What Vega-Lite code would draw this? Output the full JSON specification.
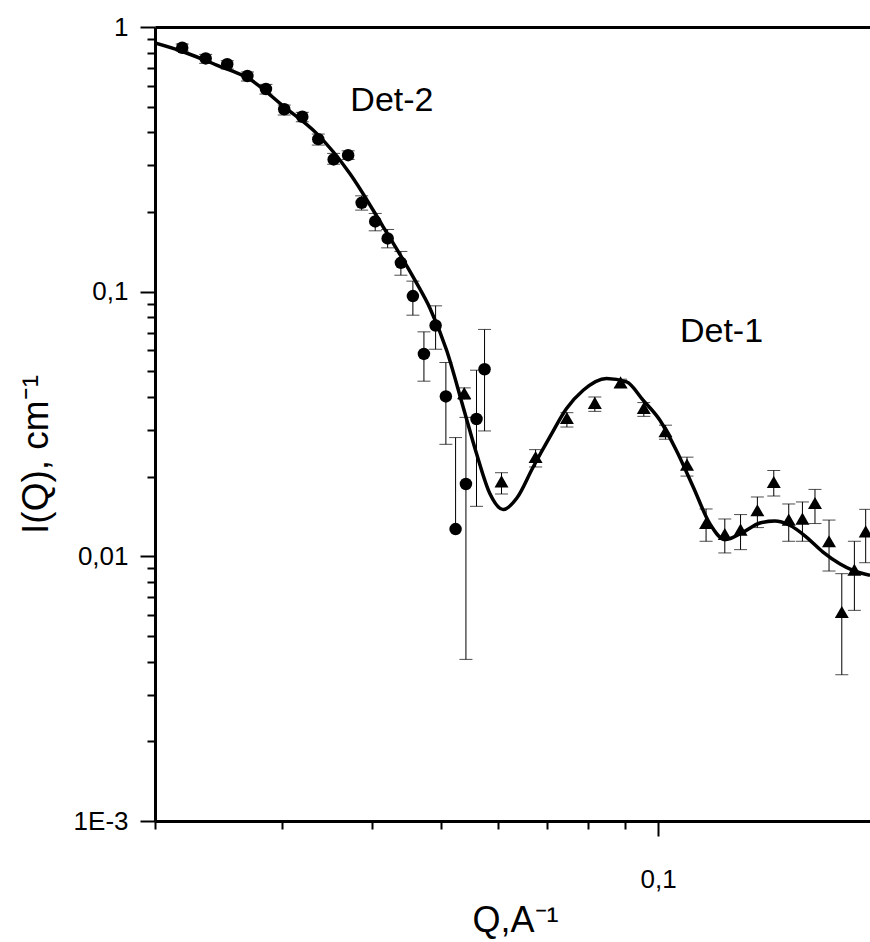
{
  "$schema": "https://vega.github.io/schema/vega-lite/v6.json",
  "width": 715,
  "height": 794,
  "autosize": {"type": "none"},
  "padding": {"left": 155, "top": 27, "right": 0, "bottom": 121},
  "background": "white",
  "config": {
    "font": "Liberation Sans",
    "view": {"stroke": null},
    "axis": {"grid": false, "domainColor": "black", "tickColor": "black", "labelColor": "black", "titleColor": "black", "labelFont": "Liberation Sans", "titleFont": "Liberation Sans", "titleFontWeight": "normal"}
  },
  "datasets": {
    "points": [
      {"det": "Det-2", "q": 0.02182, "i": 0.835, "hi": 0.862, "lo": 0.811, "locap": true},
      {"det": "Det-2", "q": 0.02352, "i": 0.761, "hi": 0.788, "lo": 0.729, "locap": true},
      {"det": "Det-2", "q": 0.0252, "i": 0.723, "hi": 0.746, "lo": 0.694, "locap": true},
      {"det": "Det-2", "q": 0.02688, "i": 0.653, "hi": 0.676, "lo": 0.625, "locap": true},
      {"det": "Det-2", "q": 0.02852, "i": 0.583, "hi": 0.607, "lo": 0.558, "locap": true},
      {"det": "Det-2", "q": 0.03024, "i": 0.489, "hi": 0.507, "lo": 0.465, "locap": true},
      {"det": "Det-2", "q": 0.03204, "i": 0.458, "hi": 0.476, "lo": 0.4385, "locap": true},
      {"det": "Det-2", "q": 0.03372, "i": 0.377, "hi": 0.394, "lo": 0.358, "locap": true},
      {"det": "Det-2", "q": 0.03542, "i": 0.316, "hi": 0.333, "lo": 0.303, "locap": true},
      {"det": "Det-2", "q": 0.0371, "i": 0.328, "hi": 0.3405, "lo": 0.316, "locap": true},
      {"det": "Det-2", "q": 0.03874, "i": 0.2166, "hi": 0.2302, "lo": 0.2033, "locap": true},
      {"det": "Det-2", "q": 0.04046, "i": 0.1842, "hi": 0.1975, "lo": 0.1698, "locap": true},
      {"det": "Det-2", "q": 0.0421, "i": 0.1589, "hi": 0.1718, "lo": 0.1464, "locap": true},
      {"det": "Det-2", "q": 0.04392, "i": 0.1285, "hi": 0.1419, "lo": 0.1154, "locap": true},
      {"det": "Det-2", "q": 0.04564, "i": 0.0962, "hi": 0.1096, "lo": 0.0815, "locap": true},
      {"det": "Det-2", "q": 0.04728, "i": 0.0582, "hi": 0.0705, "lo": 0.0459, "locap": true},
      {"det": "Det-2", "q": 0.04908, "i": 0.0745, "hi": 0.0884, "lo": 0.0606, "locap": true},
      {"det": "Det-2", "q": 0.05072, "i": 0.0402, "hi": 0.054, "lo": 0.0265, "locap": true},
      {"det": "Det-2", "q": 0.05232, "i": 0.01268, "hi": 0.0281, "lo": 0.01268, "locap": false},
      {"det": "Det-2", "q": 0.05408, "i": 0.01876, "hi": 0.0335, "lo": 0.00408, "locap": true},
      {"det": "Det-2", "q": 0.05594, "i": 0.03304, "hi": 0.0505, "lo": 0.01545, "locap": true},
      {"det": "Det-2", "q": 0.0574, "i": 0.0509, "hi": 0.072, "lo": 0.02977, "locap": true},
      {"det": "Det-1", "q": 0.05379, "i": 0.0414, "hi": 0.0433, "lo": 0.0392, "locap": true},
      {"det": "Det-1", "q": 0.0606, "i": 0.0192, "hi": 0.0207, "lo": 0.0172, "locap": true},
      {"det": "Det-1", "q": 0.06758, "i": 0.02373, "hi": 0.0253, "lo": 0.02176, "locap": true},
      {"det": "Det-1", "q": 0.0747, "i": 0.0333, "hi": 0.0349, "lo": 0.0308, "locap": true},
      {"det": "Det-1", "q": 0.08168, "i": 0.038, "hi": 0.04, "lo": 0.0353, "locap": true},
      {"det": "Det-1", "q": 0.0887, "i": 0.0454, "hi": 0.0467, "lo": 0.0435, "locap": true},
      {"det": "Det-1", "q": 0.09554, "i": 0.03636, "hi": 0.0381, "lo": 0.0338, "locap": true},
      {"det": "Det-1", "q": 0.1024, "i": 0.0297, "hi": 0.0313, "lo": 0.0277, "locap": true},
      {"det": "Det-1", "q": 0.1097, "i": 0.0222, "hi": 0.0237, "lo": 0.0201, "locap": true},
      {"det": "Det-1", "q": 0.1166, "i": 0.01336, "hi": 0.0151, "lo": 0.0114, "locap": true},
      {"det": "Det-1", "q": 0.1238, "i": 0.01215, "hi": 0.01384, "lo": 0.0103, "locap": true},
      {"det": "Det-1", "q": 0.1302, "i": 0.01262, "hi": 0.01438, "lo": 0.0106, "locap": true},
      {"det": "Det-1", "q": 0.1374, "i": 0.01493, "hi": 0.01676, "lo": 0.01284, "locap": true},
      {"det": "Det-1", "q": 0.1448, "i": 0.0191, "hi": 0.0211, "lo": 0.0169, "locap": true},
      {"det": "Det-1", "q": 0.1519, "i": 0.01376, "hi": 0.01577, "lo": 0.0114, "locap": true},
      {"det": "Det-1", "q": 0.1587, "i": 0.01388, "hi": 0.01605, "lo": 0.0114, "locap": true},
      {"det": "Det-1", "q": 0.1652, "i": 0.0159, "hi": 0.0179, "lo": 0.0133, "locap": true},
      {"det": "Det-1", "q": 0.1728, "i": 0.0114, "hi": 0.01371, "lo": 0.0088, "locap": true},
      {"det": "Det-1", "q": 0.18, "i": 0.00616, "hi": 0.0086, "lo": 0.00357, "locap": true},
      {"det": "Det-1", "q": 0.1874, "i": 0.0089, "hi": 0.0114, "lo": 0.00625, "locap": true},
      {"det": "Det-1", "q": 0.1943, "i": 0.01243, "hi": 0.01505, "lo": 0.00946, "locap": true}
    ],
    "fit": [
      {"q": 0.02, "i": 0.87},
      {"q": 0.02188, "i": 0.8064},
      {"q": 0.02436, "i": 0.7183},
      {"q": 0.0271, "i": 0.6342},
      {"q": 0.03014, "i": 0.5027},
      {"q": 0.03354, "i": 0.3963},
      {"q": 0.0373, "i": 0.2798},
      {"q": 0.0415, "i": 0.1758},
      {"q": 0.04594, "i": 0.1105},
      {"q": 0.0482, "i": 0.0866},
      {"q": 0.05084, "i": 0.0601},
      {"q": 0.0536, "i": 0.03667},
      {"q": 0.05594, "i": 0.02445},
      {"q": 0.05838, "i": 0.01726},
      {"q": 0.06092, "i": 0.01502},
      {"q": 0.06362, "i": 0.01657},
      {"q": 0.06706, "i": 0.02176},
      {"q": 0.07074, "i": 0.02825},
      {"q": 0.07462, "i": 0.03617},
      {"q": 0.0787, "i": 0.04242},
      {"q": 0.0848, "i": 0.047},
      {"q": 0.09042, "i": 0.0456},
      {"q": 0.09532, "i": 0.0389},
      {"q": 0.1006, "i": 0.03267},
      {"q": 0.106, "i": 0.02517},
      {"q": 0.1119, "i": 0.01828},
      {"q": 0.118, "i": 0.01329},
      {"q": 0.1238, "i": 0.01156},
      {"q": 0.1313, "i": 0.01235},
      {"q": 0.1385, "i": 0.01336},
      {"q": 0.1452, "i": 0.0136},
      {"q": 0.1524, "i": 0.0131},
      {"q": 0.1607, "i": 0.01183},
      {"q": 0.1695, "i": 0.01038},
      {"q": 0.1788, "i": 0.00938},
      {"q": 0.1866, "i": 0.00885},
      {"q": 0.197, "i": 0.00847}
    ],
    "labels": [
      {"q": 0.04268, "i": 0.4816, "text": "Det-2"},
      {"q": 0.1225, "i": 0.0645, "text": "Det-1"}
    ]
  },
  "layer": [
    {
      "data": {"name": "points"},
      "mark": {"type": "rule", "color": "black", "strokeWidth": 1},
      "encoding": {
        "x": {"field": "q", "type": "quantitative", "scale": {"type": "log", "domain": [0.02, 0.197], "nice": false},
          "axis": {"orient": "bottom", "values": [0.02, 0.03, 0.04, 0.05, 0.06, 0.07, 0.08, 0.09], "labels": false, "title": null, "domain": false, "tickSize": 8, "tickWidth": 2}},
        "y": {"field": "lo", "type": "quantitative", "scale": {"type": "log", "domain": [0.001, 1], "nice": false},
          "axis": {"orient": "left", "values": [0.002, 0.003, 0.004, 0.005, 0.006, 0.007, 0.008, 0.009, 0.02, 0.03, 0.04, 0.05, 0.06, 0.07, 0.08, 0.09, 0.2, 0.3, 0.4, 0.5, 0.6, 0.7, 0.8, 0.9], "labels": false, "title": null, "domain": false, "tickSize": 8, "tickWidth": 2}},
        "y2": {"field": "hi"}
      }
    },
    {
      "data": {"name": "points"},
      "mark": {"type": "tick", "orient": "horizontal", "color": "black", "size": 13, "thickness": 1},
      "encoding": {
        "x": {"field": "q", "type": "quantitative", "axis": null},
        "y": {"field": "hi", "type": "quantitative", "axis": null}
      }
    },
    {
      "data": {"name": "points"},
      "transform": [{"filter": "datum.locap"}],
      "mark": {"type": "tick", "orient": "horizontal", "color": "black", "size": 13, "thickness": 1},
      "encoding": {
        "x": {"field": "q", "type": "quantitative", "axis": null},
        "y": {"field": "lo", "type": "quantitative", "axis": null}
      }
    },
    {
      "data": {"name": "fit"},
      "mark": {"type": "line", "color": "black", "strokeWidth": 3.5, "interpolate": "monotone", "clip": true},
      "encoding": {
        "x": {"field": "q", "type": "quantitative",
          "axis": {"orient": "bottom", "values": [0.1], "labelExpr": "'0,1'", "labelFontSize": 26, "labelPadding": 30, "tickSize": 15, "tickWidth": 2, "domainWidth": 3,
            "title": "Q,A⁻¹", "titleFontSize": 36, "titleBaseline": "alphabetic", "titleX": 360, "titleY": 110}},
        "y": {"field": "i", "type": "quantitative",
          "axis": {"orient": "left", "values": [0.001, 0.01, 0.1, 1], "labelExpr": "datum.value > 0.5 ? '1' : datum.value > 0.05 ? '0,1' : datum.value > 0.005 ? '0,01' : '1E-3'", "labelFontSize": 26, "labelPadding": 12, "tickSize": 15, "tickWidth": 2, "domainWidth": 3,
            "title": "I(Q), cm⁻¹", "titleFontSize": 37, "titleBaseline": "alphabetic", "titleAngle": -90, "titleX": -108, "titleY": 427}}
      }
    },
    {
      "data": {"name": "points"},
      "mark": {"type": "point", "filled": true, "color": "black", "opacity": 1, "strokeWidth": 0},
      "encoding": {
        "x": {"field": "q", "type": "quantitative", "axis": null},
        "y": {"field": "i", "type": "quantitative", "axis": null},
        "shape": {"field": "det", "type": "nominal", "scale": {"domain": ["Det-2", "Det-1"], "range": ["circle", "triangle-up"]}, "legend": null},
        "size": {"field": "det", "type": "nominal", "scale": {"domain": ["Det-2", "Det-1"], "range": [156, 196]}, "legend": null}
      }
    },
    {
      "data": {"name": "labels"},
      "mark": {"type": "text", "fontSize": 34, "align": "center", "baseline": "alphabetic", "color": "black", "font": "Liberation Sans"},
      "encoding": {
        "x": {"field": "q", "type": "quantitative",
          "axis": {"orient": "top", "ticks": false, "labels": false, "title": null, "domain": true, "domainWidth": 3}},
        "y": {"field": "i", "type": "quantitative", "axis": null},
        "text": {"field": "text"}
      }
    }
  ],
  "resolve": {"axis": {"x": "independent", "y": "independent"}}
}
